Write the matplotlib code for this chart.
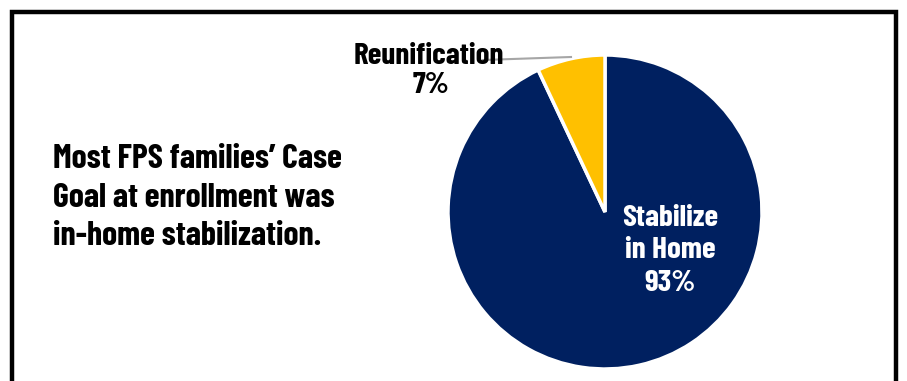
import matplotlib
matplotlib.use("Agg")
import matplotlib.pyplot as plt
from matplotlib import font_manager
from matplotlib.font_manager import FontProperties

files = sorted(set(font_manager.findSystemFonts() + [f.fname for f in font_manager.fontManager.ttflist]))
def find(name):
    for f in files:
        if f.split("/")[-1] == name:
            return f
    return None
fpath = (find("BarlowCondensed-Bold.ttf") or find("RobotoCondensed-Bold.ttf")
         or find("DejaVuSansCondensed-Bold.ttf"))

# ---- data ----
categories = ["Stabilize in Home", "Reunification"]
values = [93, 7]
pct_labels = ["93%", "7%"]
colors = ["#002060", "#FFC000"]
title_lines = ["Most FPS families\u2019 Case", "Goal at enrollment was", "in-home stabilization."]

W, H = 907, 381
fig = plt.figure(figsize=(W / 100, H / 100), dpi=100)
fig.patch.set_facecolor("white")

def ftext(x, y, s, size, color="black", ha="left"):
    fig.text(x / W, 1 - y / H, s, ha=ha, va="baseline", color=color,
             fontproperties=FontProperties(fname=fpath, size=size))

# pie axes: center (605, 212), radius 157 px
cx, cy, r = 605, 212, 157
ax = fig.add_axes([(cx - r) / W, 1 - (cy + r) / H, 2 * r / W, 2 * r / H])
wedges, _ = ax.pie(values, colors=colors, startangle=90, counterclock=False,
                   wedgeprops=dict(edgecolor="white", linewidth=2.5))
ax.set_aspect("equal")
ax.set_xlim(-1, 1)
ax.set_ylim(-1, 1)

# inside label for the large slice
big_lines = ["Stabilize", "in Home", pct_labels[0]]
for s, yb in zip(big_lines, [226, 258, 291]):
    ftext(670, yb, s, 22.5, color="white", ha="center")

# outside label for the small slice
ftext(429, 64, categories[1], 22.5, ha="center")
ftext(431, 93, pct_labels[1], 22.5, ha="center")
fig.add_artist(plt.Line2D([483 / W, 571 / W], [1 - 60 / H, 1 - 57 / H], color="#A6A6A6", lw=1.5))

# left-hand message
for s, yb in zip(title_lines, [168, 207, 245]):
    ftext(53, yb, s, 24.5)

# outer border (open at bottom)
fig.add_artist(plt.Line2D([11.5 / W, 11.5 / W, 895.5 / W, 895.5 / W],
                          [0, 1 - 11.5 / H, 1 - 11.5 / H, 0], color="black", lw=3.2,
                          solid_joinstyle="miter"))

fig.savefig("out.png", dpi=100)
